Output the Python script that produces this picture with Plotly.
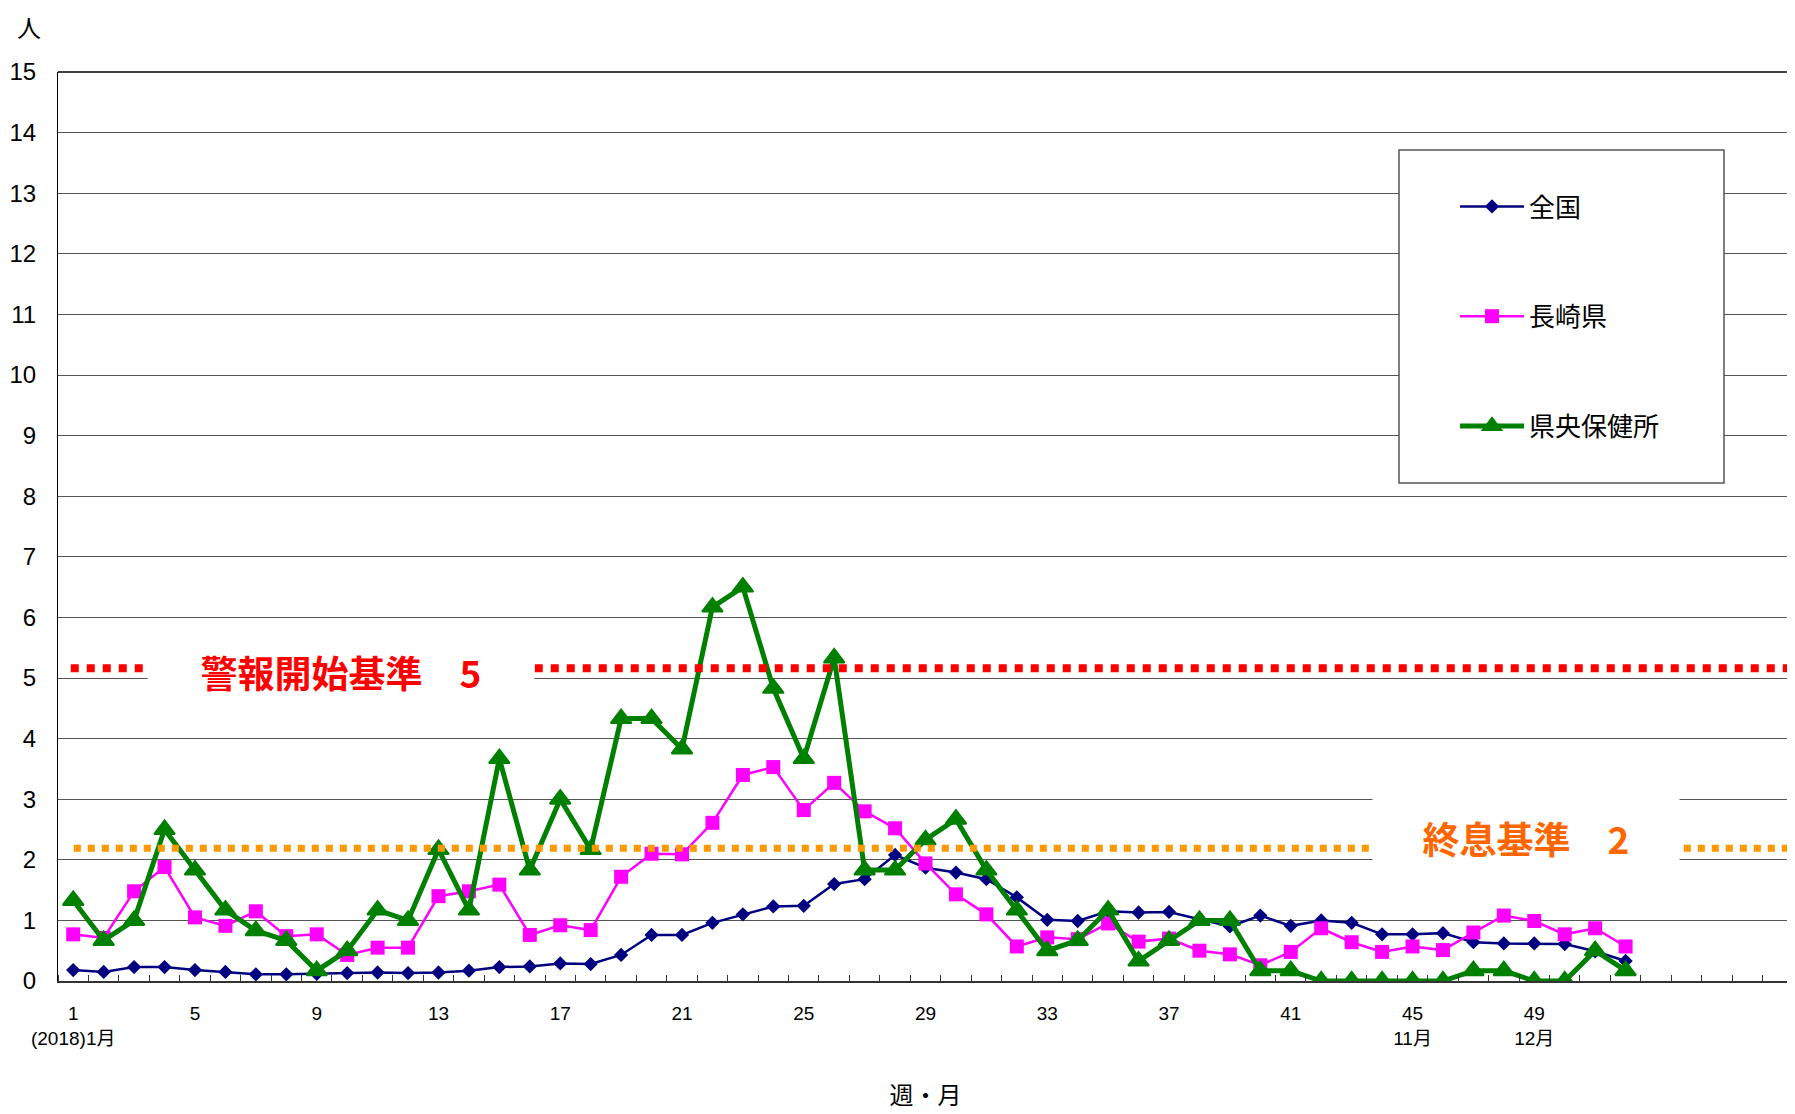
import plotly.graph_objects as go

# ---- data ----
weeks = list(range(1, 53))
national = [0.18, 0.15, 0.23, 0.23, 0.18, 0.15, 0.11, 0.11, 0.12, 0.13,
            0.14, 0.13, 0.14, 0.17, 0.23, 0.24, 0.29, 0.28, 0.43, 0.76,
            0.76, 0.96, 1.10, 1.23, 1.24, 1.60, 1.68, 2.08, 1.87, 1.79,
            1.68, 1.38, 1.01, 0.99, 1.15, 1.13, 1.14, 1.02, 0.90, 1.08,
            0.91, 1.00, 0.96, 0.77, 0.77, 0.79, 0.64, 0.62, 0.62, 0.61,
            0.49, 0.33]
nagasaki = [0.77, 0.71, 1.48, 1.88, 1.05, 0.91, 1.15, 0.74, 0.77, 0.43,
            0.55, 0.55, 1.40, 1.48, 1.59, 0.76, 0.92, 0.84, 1.72, 2.10,
            2.09, 2.61, 3.40, 3.53, 2.82, 3.27, 2.80, 2.52, 1.94, 1.43,
            1.10, 0.57, 0.72, 0.69, 0.95, 0.65, 0.70, 0.50, 0.44, 0.26,
            0.48, 0.87, 0.64, 0.48, 0.57, 0.51, 0.80, 1.08, 0.99, 0.77,
            0.87, 0.57]
kenou = [1.33, 0.67, 1.00, 2.50, 1.83, 1.17, 0.83, 0.67, 0.17, 0.50,
         1.17, 1.00, 2.17, 1.17, 3.67, 1.83, 3.00, 2.17, 4.33, 4.33,
         3.83, 6.17, 6.50, 4.83, 3.67, 5.33, 1.83, 1.83, 2.33, 2.67,
         1.83, 1.17, 0.50, 0.67, 1.17, 0.33, 0.67, 1.00, 1.00, 0.17,
         0.17, 0.00, 0.00, 0.00, 0.00, 0.00, 0.17, 0.17, 0.00, 0.00,
         0.50, 0.17]
series_names = ["全国", "長崎県", "県央保健所"]

x_tickvals = [1, 5, 9, 13, 17, 21, 25, 29, 33, 37, 41, 45, 49]
x_ticktext = ["1<br>(2018)1月", "5", "9", "13", "17", "21", "25", "29",
              "33", "37", "41", "45<br>11月", "49<br>12月"]
y_tickvals = list(range(0, 16))

alert_level = 5.16      # 警報開始基準 line
end_level = 2.19        # 終息基準 line
alert_text = "警報開始基準　5"
end_text = "終息基準　2"

FONT = "Liberation Sans, Arial, Noto Sans CJK JP, sans-serif"
CJK = "Noto Sans CJK JP, Liberation Sans, sans-serif"

# page has an 8px body margin; plot area in page: x 58..1793, y 72..981
PL, PT, PW, PH = 58, 72, 1735, 909


def px2paper(px, py):
    return (px - PL) / PW, (PT + PH - py) / PH


fig = go.Figure()
fig.add_trace(go.Scatter(
    x=weeks, y=national, name=series_names[0], mode="lines+markers",
    line=dict(color="#000080", width=2.5),
    marker=dict(symbol="diamond", size=11, color="#000080"),
    legendgroup="a"))
fig.add_trace(go.Scatter(
    x=weeks, y=nagasaki, name=series_names[1], mode="lines+markers",
    line=dict(color="#FF00FF", width=2.5),
    marker=dict(symbol="square", size=14, color="#FF00FF"),
    legendgroup="b"))
fig.add_trace(go.Scatter(
    x=weeks, y=kenou, name=series_names[2], mode="lines+markers",
    line=dict(color="#008000", width=5),
    marker=dict(symbol="triangle-up", size=18, color="#008000",
                line=dict(color="#008000", width=2)),
    legendgroup="c"))

# threshold dotted lines
fig.add_shape(type="line", xref="x", yref="y", x0=0.92, x1=57.5,
              y0=alert_level, y1=alert_level,
              line=dict(color="#FF0000", width=8, dash="dot"))
fig.add_shape(type="line", xref="x", yref="y", x0=1.02, x1=57.5,
              y0=end_level, y1=end_level,
              line=dict(color="#FF9900", width=7, dash="dot"))

# legend box
bx0, by0 = px2paper(1399, 483)
bx1, by1 = px2paper(1724, 150)
fig.add_shape(type="rect", xref="paper", yref="paper",
              x0=bx0, x1=bx1, y0=by0, y1=by1,
              fillcolor="white", line=dict(color="#555555", width=1.5),
              layer="above")

fig.add_annotation(x=9.79, y=5.10, xref="x", yref="y", text=alert_text,
                   showarrow=False, bgcolor="white", width=382, height=52,
                   borderpad=2,
                   font=dict(family=CJK, size=37, color="#FF0000", weight="bold"))
fig.add_annotation(x=48.74, y=2.36, xref="x", yref="y", text=end_text,
                   showarrow=False, bgcolor="white", width=300, height=86,
                   borderpad=3,
                   font=dict(family=CJK, size=37, color="#FF6600", weight="bold"))
ax, ay = px2paper(29, 8)
fig.add_annotation(x=ax, y=ay, xref="paper", yref="paper", text="人",
                   xanchor="center", yanchor="top", borderpad=0,
                   showarrow=False, font=dict(family=CJK, size=24, color="black"))

fig.update_xaxes(
    range=[0.5, 57.5], tickmode="array", tickvals=x_tickvals, ticktext=x_ticktext,
    ticks="", showgrid=False, zeroline=False,
    showline=True, linecolor="#333333", linewidth=2, mirror=False,
    tickfont=dict(family=FONT, size=19, color="black"),
    ticklabelstandoff=14,
    minor=dict(tickmode="linear", tick0=0.5, dtick=1, ticks="inside",
               ticklen=6, tickcolor="#333333", tickwidth=1, showgrid=False),
    title=dict(text="週・月", font=dict(family=CJK, size=24, color="black"),
               standoff=40),
)
fig.update_yaxes(
    range=[0, 15], tickmode="array", tickvals=y_tickvals,
    showgrid=True, gridcolor="#555555", gridwidth=1, zeroline=False,
    showline=True, linecolor="black", linewidth=1,
    ticks="inside", ticklen=6, tickcolor="#555555",
    tickfont=dict(family=FONT, size=24, color="black"),
    ticklabelstandoff=16,
)
# top & right frame
fig.add_shape(type="line", xref="paper", yref="paper", x0=0, x1=1, y0=1, y1=1,
              line=dict(color="black", width=1.5), layer="below")
fig.add_shape(type="line", xref="paper", yref="paper", x0=1, x1=1, y0=0, y1=1,
              line=dict(color="#777777", width=2), layer="below")

lx, ly = px2paper(1455, 183)
fig.update_layout(
    width=1787, height=1106,
    margin=dict(l=PL - 8, r=2, t=PT - 8, b=133, autoexpand=False),
    paper_bgcolor="white", plot_bgcolor="white",
    showlegend=True,
    legend=dict(x=lx, y=ly, xanchor="left", yanchor="top",
                bgcolor="rgba(0,0,0,0)", borderwidth=0,
                font=dict(family=CJK, size=26, color="black"),
                itemwidth=64, tracegroupgap=73, traceorder="grouped"),
    font=dict(family=FONT),
)

fig.write_html("out.html")
